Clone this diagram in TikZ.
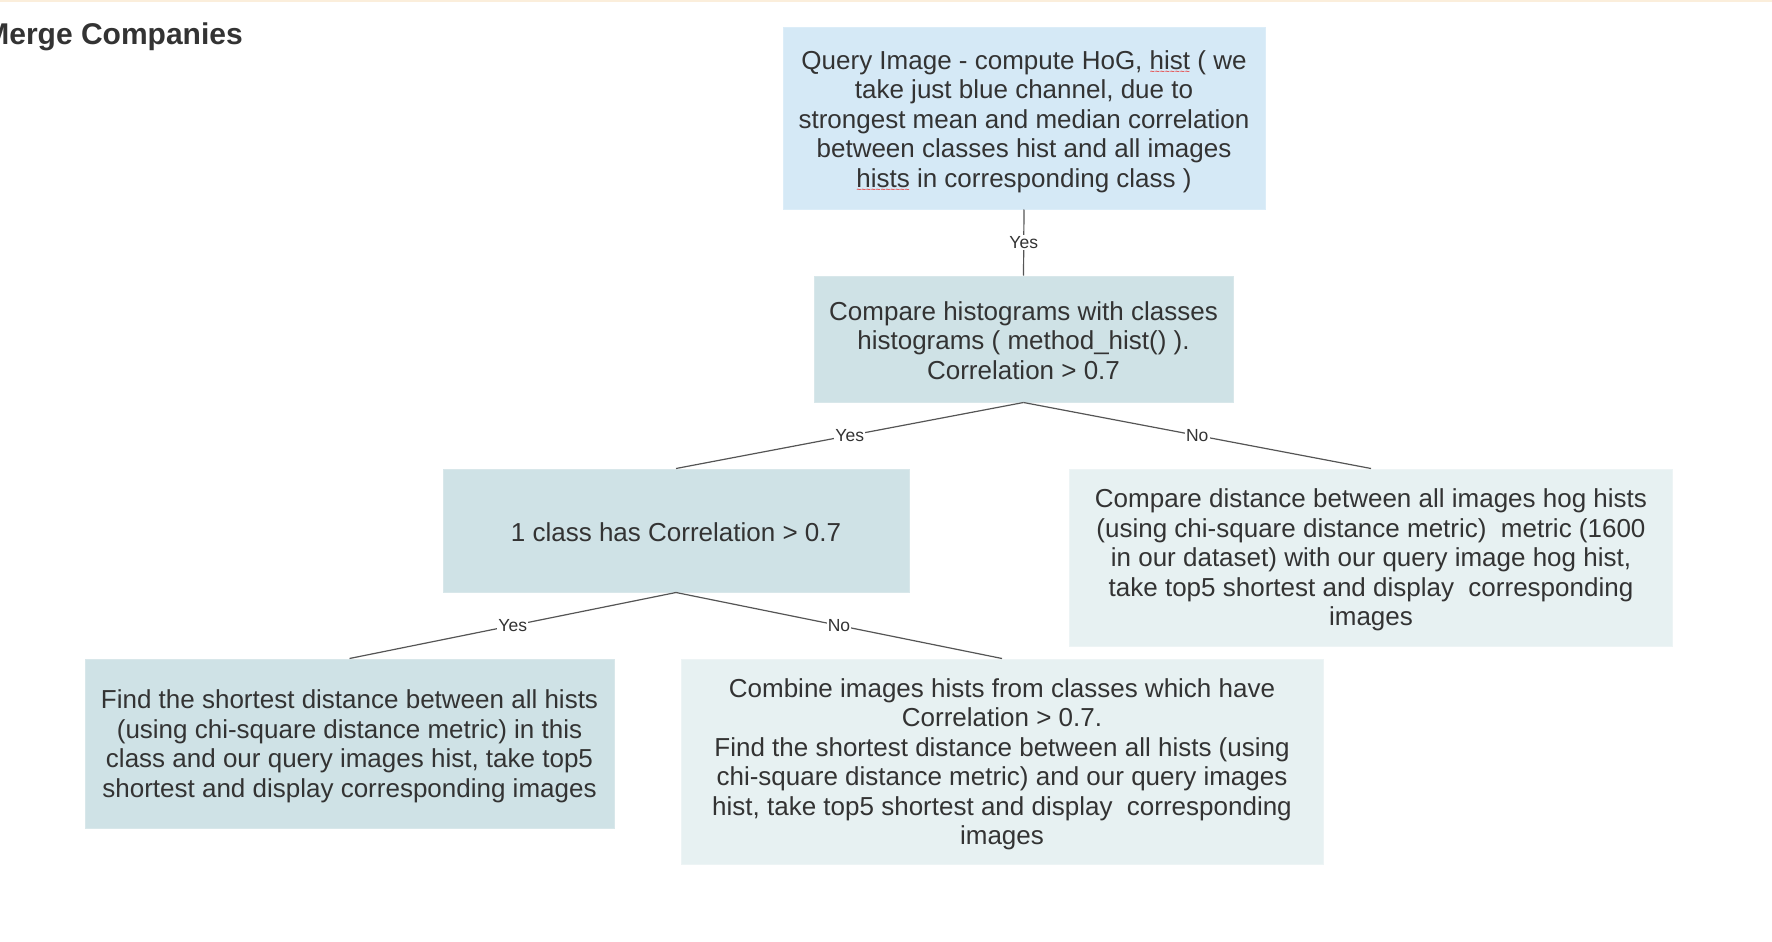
\documentclass[tikz,border=0pt]{standalone}
\usepackage{fontspec}
\setmainfont{Liberation Sans}
\definecolor{txt}{HTML}{333333}
\definecolor{qblue}{HTML}{D5E9F6}
\definecolor{qblueline}{HTML}{DCEDF8}
\definecolor{tealbox}{HTML}{CFE2E6}
\definecolor{tealline}{HTML}{D8E7EA}
\definecolor{paleteal}{HTML}{E7F1F2}
\definecolor{palelline}{HTML}{EDF4F5}
\definecolor{linecol}{HTML}{555555}
\definecolor{topband}{HTML}{FBEEDB}
\definecolor{spell}{HTML}{E8403F}
\newcommand\spellwave[1]{\setbox0\hbox{#1}\rlap{\lower5.5pt\hbox to\wd0{\color{spell}\fontsize{8pt}{8pt}\bfseries\selectfont\xleaders\hbox{\char126}\hfil}}\box0\relax}
\tikzset{
  boxshape/.style={rectangle, inner sep=0pt, line width=1pt},
  bluebox/.style={boxshape, fill=qblue, draw=qblueline},
  tealnode/.style={boxshape, fill=tealbox, draw=tealline},
  palenode/.style={boxshape, fill=paleteal, draw=palelline},
  boxtext/.style={inner sep=0pt, align=center, text=txt,
    font=\fontsize{26pt}{29.5pt}\selectfont},
  conn/.style={draw=linecol, line width=1.2pt},
  lbl/.style={fill=white, inner sep=1.2pt, text=txt, font=\fontsize{17.5pt}{20pt}\selectfont}
}
\begin{document}
\begin{tikzpicture}[x=1pt, y=-1pt]
\useasboundingbox (0,0) rectangle (1772,942);
\clip (0,0) rectangle (1772,942);
\fill[white] (0,0) rectangle (1772,942);
\fill[topband] (0,0) rectangle (1772,2);
\node[anchor=base east, inner sep=0pt, text=txt, font=\bfseries\fontsize{30pt}{34pt}\selectfont] (title) at (243,45) {Merge Companies};

\node[bluebox, minimum width=482pt, minimum height=181pt] (b1) at (1024,118.5) {};
\node[tealnode, minimum width=419pt, minimum height=126pt] (b2) at (1023.5,339) {};
\node[tealnode, minimum width=466pt, minimum height=123pt] (b3) at (676,530.5) {};
\node[palenode, minimum width=603pt, minimum height=177pt] (b4) at (1371,557.5) {};
\node[tealnode, minimum width=529pt, minimum height=169pt] (b5) at (349.5,743.5) {};
\node[palenode, minimum width=642pt, minimum height=205pt] (b6) at (1002,761.5) {};

\node[boxtext] (t1) at ([yshift=-3pt]b1.center)
  {Query Image - compute HoG, \spellwave{hist} ( we\\take just blue channel, due to\\strongest mean and median correlation\\between classes hist and all images\\\spellwave{hists} in corresponding class )};
\node[boxtext] (t2) at ([yshift=-1.5pt]b2.center)
  {Compare histograms with classes\\histograms ( method\_hist() ).\\Correlation > 0.7};
\node[boxtext] (t3) at ([yshift=-1.5pt]b3.center)
  {1 class has Correlation > 0.7};
\node[boxtext] (t4) at ([yshift=-2.5pt]b4.center)
  {Compare distance between all images hog hists\\(using chi-square distance metric)\ \ metric (1600\\in our dataset) with our query image hog hist,\\take top5 shortest and display\ \ corresponding\\images};
\node[boxtext] (t5) at ([yshift=-3pt]b5.center)
  {Find the shortest distance between all hists\\(using chi-square distance metric) in this\\class and our query images hist, take top5\\shortest and display corresponding images};
\node[boxtext] (t6) at ([yshift=-3pt]b6.center)
  {Combine images hists from classes which have\\Correlation > 0.7.\\Find the shortest distance between all hists (using\\chi-square distance metric) and our query images\\hist, take top5 shortest and display\ \ corresponding\\images};

\draw[conn] (b1.south) -- node[lbl] {Yes} (b2.north);
\draw[conn] (b2.south) -- node[lbl] {Yes} (b3.north);
\draw[conn] (b2.south) -- node[lbl] {No} (b4.north);
\draw[conn] (b3.south) -- node[lbl] {Yes} (b5.north);
\draw[conn] (b3.south) -- node[lbl] {No} (b6.north);
\end{tikzpicture}
\end{document}
